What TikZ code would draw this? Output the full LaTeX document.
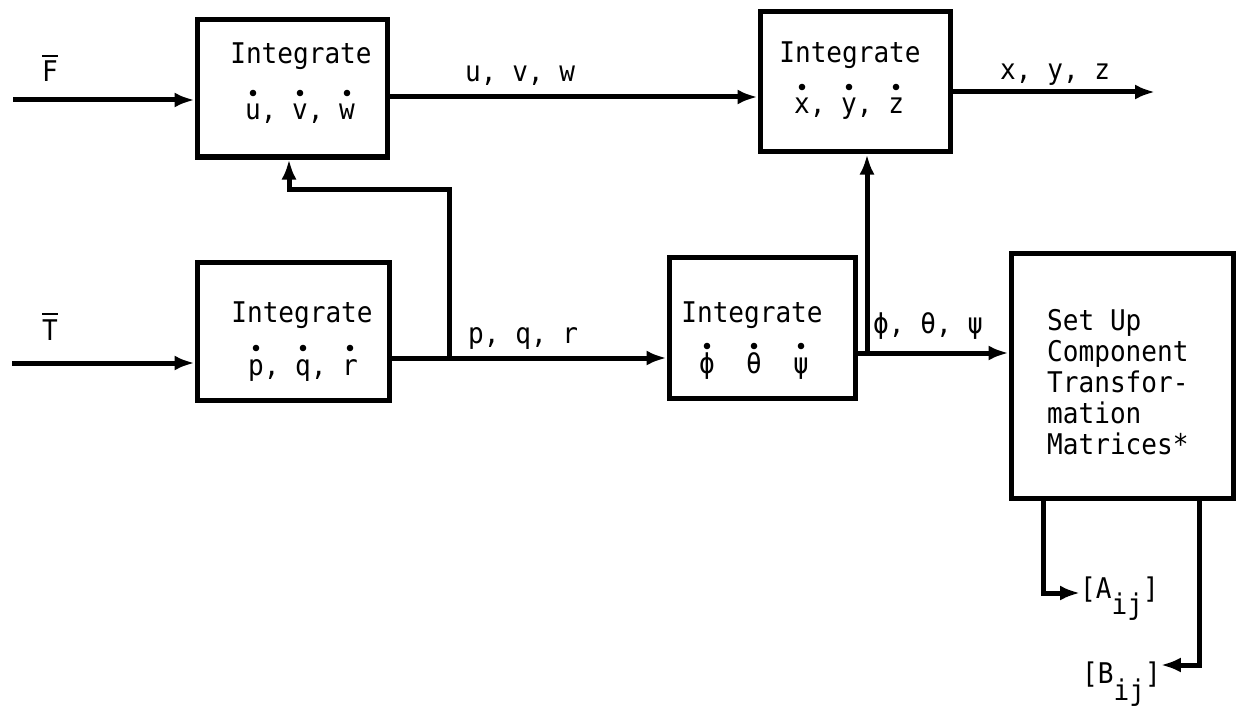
\documentclass[tikz,border=0pt]{standalone}
\usepackage{fontspec}
\setmainfont{DejaVu Sans Mono}[FakeStretch=0.915]
\usetikzlibrary{arrows.meta}
\newcommand\ovl[1]{\leavevmode\setbox0\hbox{#1}\rlap{\rule[\dimexpr\ht0+4pt\relax]{\wd0}{2.5pt}}\box0}
\newcommand\dotrow[1]{\foreach \o in {-47,0,47} \fill ([shift={(\o,-27)}]#1.base) circle (3.3pt);}
\begin{document}
\begin{tikzpicture}[x=1pt,y=-1pt,
  font=\fontsize{28.5pt}{32pt}\selectfont,
  box/.style={draw, line width=5pt, inner sep=0pt},
  conn/.style={line width=5pt},
  arr/.style={conn, -{Latex[length=20pt,width=15pt]}},
  txt/.style={inner sep=0pt, anchor=base},
  lbl/.style={inner sep=0pt, anchor=base west}]
\fill[white] (0,0) rectangle (1242,706);
\useasboundingbox (0,0) rectangle (1242,706);
% boxes
\node[box, minimum width=190pt, minimum height=137pt] (b1) at (292,88.5) {};
\node[box, minimum width=190pt, minimum height=140pt] (b2) at (855,82) {};
\node[box, minimum width=192pt, minimum height=138pt] (b3) at (293,331) {};
\node[box, minimum width=186pt, minimum height=141pt] (b4) at (762,327.5) {};
\node[box, minimum width=222pt, minimum height=245pt] (b5) at (1122,375.5) {};
% box texts
\node[txt] (t1a) at (301,64) {Integrate};
\node[txt] (t1b) at (300,120) {u, v, w};
\node[txt] (t2a) at (850,63) {Integrate};
\node[txt] (t2b) at (849,114) {x, y, z};
\node[txt] (t3a) at (302,322) {Integrate};
\node[txt] (t3b) at (303,375) {p, q, r};
\node[txt] (t4a) at (752,322) {Integrate};
\node[txt] (t4b) at (754,373) {ϕ\ \ θ\ \ ψ};
\dotrow{t1b}
\dotrow{t2b}
\dotrow{t3b}
\dotrow{t4b}
\foreach \s/\t [count=\i] in {Set Up/330, Component/361, Transfor-/392, mation/423, Matrices*/454}
  \node[lbl] (s\i) at (1047,\t) {\s};
% labels
\node[lbl] (luvw) at (465,82) {u, v, w};
\node[lbl] (lxyz) at (1000,80) {x, y, z};
\node[lbl] (lpqr) at (468,343) {p, q, r};
\node[lbl] (lang) at (873,333) {ϕ, θ, ψ};
\node[txt] (F) at (50,82) {\ovl{F}};
\node[txt] (T) at (50,340) {\ovl{T}};
\node[lbl] (A) at (1080,598) {[A\raisebox{-16pt}{ij}]};
\node[lbl] (B) at (1082,683) {[B\raisebox{-17pt}{ij}]};
% connectors
\coordinate (fin) at (13,100);
\draw[arr] (fin) -- (fin -| b1.west);
\coordinate (uvw) at (0,97);
\draw[arr] (b1.east |- uvw) -- (b2.west |- uvw);
\coordinate (xyz) at (1155,92);
\draw[arr] (b2.east |- xyz) -- (xyz);
\coordinate (tin) at (12,363);
\draw[arr] (tin) -- (tin -| b3.west);
\coordinate (pqr) at (449,358);
\draw[arr] (b3.east |- pqr) -- (b4.west |- pqr);
\coordinate (fb) at (289,189);
\draw[arr] (pqr) -- (pqr |- fb) -- (fb) -- (fb |- b1.south);
\coordinate (ang) at (867,353);
\draw[arr] (b4.east |- ang) -- (b5.west |- ang);
\draw[arr] (ang) -- (ang |- b2.south);
\coordinate (ta) at (1043,593);
\draw[arr] (ta |- b5.south) -- (ta) -- (ta -| A.west);
\coordinate (tb) at (1199,665);
\draw[arr] (tb |- b5.south) -- (tb) -- (tb -| B.east);
\end{tikzpicture}
\end{document}
